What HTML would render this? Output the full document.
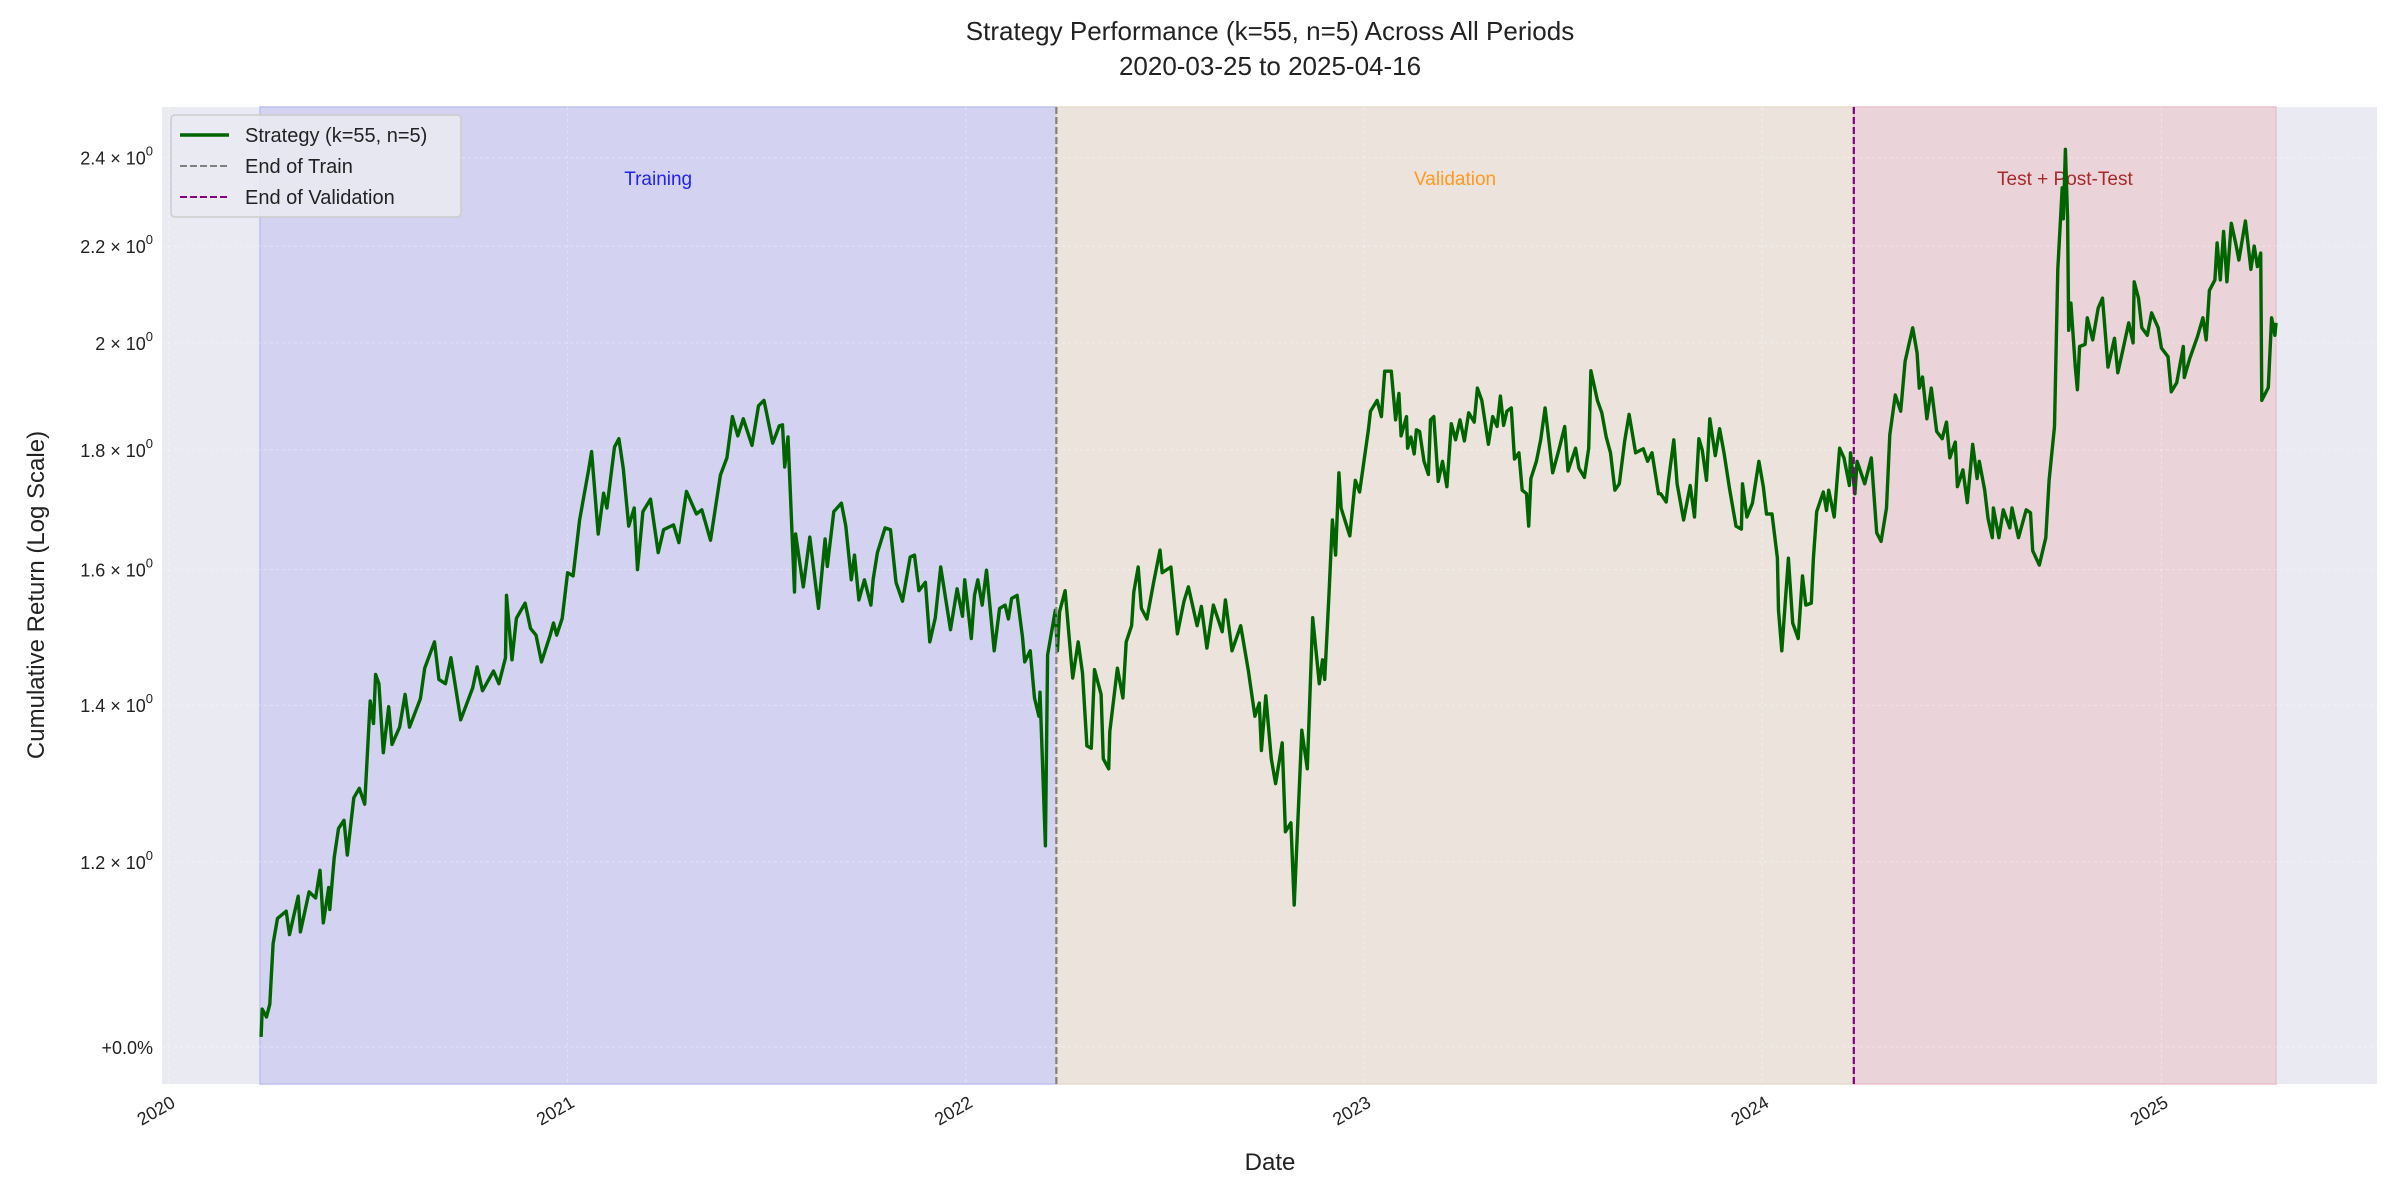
<!DOCTYPE html>
<html><head><meta charset="utf-8"><style>
html,body{margin:0;padding:0;background:#fff;}
svg{display:block;font-family:"Liberation Sans",sans-serif;}
</style></head><body>
<svg id="chart" width="2400" height="1200" viewBox="0 0 2400 1200" xmlns="http://www.w3.org/2000/svg">
<text x="1270" y="40" text-anchor="middle" font-size="26" fill="#222">Strategy Performance (k=55, n=5) Across All Periods</text>
<text x="1270" y="75" text-anchor="middle" font-size="26" fill="#222">2020-03-25 to 2025-04-16</text>
<g id="plot"></g>
<text transform="translate(44,595) rotate(-90)" text-anchor="middle" font-size="24" fill="#222">Cumulative Return (Log Scale)</text>
<text x="1270" y="1170" text-anchor="middle" font-size="24" fill="#222">Date</text>
</svg>
<script>
const days = [85,86,90,93,96,100,108,111,119,121,129,135,139,142,147,148,152,156,161,164,170,175,180,185,188,190,193,197,202,205,212,217,221,231,235,244,248,254,259,268,279,283,288,298,303,309,310,315,319,327,332,337,342,350,353,356,361,366,371,377,385,388,394,399,402,409,413,417,422,427,430,435,442,449,454,463,468,475,484,489,497,506,512,517,522,527,535,541,546,554,560,
563,565,568,574,575,582,588,596,602,604,610,617,621,626,629,633,638,644,646,650,657,662,667,673,680,684,688,694,698,703,708,717,723,728,730,736,739,742,746,750,757,762,767,770,773,778,783,785,790,794,798,799,804,806,813,815,817,822,829,834,838,842,846,849,855,857,862,863,870,875,878,883,885,889,892,897,903,909,911,919,925,931,935,943,947,952,958,966,969,975,983,990,996,1000,1002,1006,1011,1015,1021,1024,1029,1032,1036,1039,1044,1049,1055,1058,1060,1064,1067,1070,1073,
1075,1083,1088,1092,1100,1102,1108,1112,1115,1121,1125,1128,1130,1135,1136,1139,1142,1144,1147,1151,1155,1157,1160,1164,1168,1172,1176,1180,1184,1188,1192,1197,1200,1204,1210,1214,1218,1221,1224,1227,1231,1234,1238,1241,1245,1247,1249,1254,1258,1262,1269,1275,1280,1283,1290,1293,1298,1302,1304,1310,1314,1318,1322,1326,1330,1335,1339,1345,1352,1356,1360,1366,1368,1373,1375,1380,1383,1389,1395,1399,1403,1406,1410,1413,1418,1422,1426,1431,1437,1442,1443,1447,1452,1458,1462,1465,1470,1475,1476,1479,1485,1489,1494,1498,1501,1506,1508,1511,1517,1520,1522,1527,1532,1536,1541,1542,1546,1548,
1555,1561,1566,1570,1575,1578,1583,1588,1592,1599,1603,1605,1608,1612,1616,1621,1626,1630,1633,1638,1640,1645,1649,1654,1658,1660,1665,1668,1672,1673,1678,1682,1688,1690,1696,1703,1707,1709,1715,1721,1724,1729,1732,1736,1737,1739,1741,1742,1744,1748,1750,1752,1757,1759,1764,1769,1773,1778,1784,1787,1792,1797,1801,1802,1806,1809,1814,1818,1824,1827,1833,1836,1841,1847,1848,1853,1860,1865,1868,1871,1876,1878,1881,1884,1887,1891,1895,1898,1904,1909,1912,1915,1918,1919,1925,1928,1931,1932];
const values = [1.01,1.038,1.03,1.043,1.107,1.135,1.143,1.117,1.16,1.12,1.165,1.158,1.19,1.13,1.17,1.145,1.205,1.24,1.25,1.208,1.278,1.29,1.27,1.406,1.375,1.443,1.43,1.336,1.398,1.347,1.37,1.415,1.37,1.409,1.452,1.49,1.436,1.43,1.467,1.38,1.424,1.454,1.42,1.448,1.43,1.467,1.56,1.464,1.525,1.548,1.51,1.5,1.461,1.5,1.518,1.5,1.525,1.595,1.59,1.68,1.763,1.797,1.657,1.725,1.7,1.805,1.82,1.767,1.67,1.7,1.6,1.694,1.715,1.627,1.664,1.672,1.643,1.728,1.69,1.697,1.647,1.756,1.786,1.86,1.825,1.856,1.808,1.88,1.89,1.812,1.843,
1.845,1.77,1.823,1.565,1.657,1.573,1.652,1.54,1.649,1.605,1.694,1.708,1.67,1.584,1.623,1.553,1.584,1.545,1.584,1.627,1.667,1.664,1.58,1.551,1.62,1.623,1.567,1.58,1.49,1.526,1.604,1.508,1.57,1.528,1.584,1.495,1.56,1.584,1.545,1.599,1.477,1.54,1.545,1.524,1.555,1.56,1.497,1.461,1.477,1.41,1.385,1.418,1.219,1.471,1.537,1.477,1.535,1.567,1.438,1.49,1.445,1.345,1.342,1.45,1.415,1.328,1.315,1.364,1.452,1.41,1.49,1.514,1.565,1.604,1.54,1.524,1.578,1.631,1.595,1.604,1.502,1.551,1.573,1.514,1.543,1.481,1.545,1.505,1.553,1.477,1.514,1.448,1.385,1.403,1.339,1.413,1.328,1.296,1.349,1.236,1.247,1.15,1.267,1.366,1.315,1.526,1.43,1.464,1.436,1.565,1.68,1.623,1.76,
1.70,1.654,1.747,1.727,1.836,1.87,1.89,1.86,1.945,1.945,1.854,1.903,1.825,1.86,1.803,1.823,1.793,1.836,1.833,1.78,1.757,1.854,1.86,1.745,1.78,1.736,1.847,1.818,1.854,1.816,1.867,1.85,1.913,1.89,1.81,1.86,1.842,1.898,1.844,1.87,1.876,1.784,1.795,1.73,1.724,1.67,1.75,1.78,1.818,1.876,1.76,1.803,1.842,1.763,1.803,1.768,1.752,1.803,1.946,1.89,1.867,1.823,1.795,1.73,1.741,1.816,1.864,1.795,1.802,1.78,1.795,1.724,1.724,1.71,1.745,1.818,1.741,1.68,1.738,1.685,1.82,1.8,1.747,1.856,1.79,1.838,1.795,1.734,1.67,1.665,1.741,1.685,1.708,1.78,1.736,1.69,1.69,1.618,1.537,1.477,1.618,1.518,1.495,1.59,1.545,1.548,1.618,1.694,1.727,1.696,1.73,1.685,1.803,1.786,1.738,1.795,1.724,1.78,
1.741,1.786,1.659,1.645,1.70,1.827,1.90,1.87,1.964,2.03,1.98,1.913,1.934,1.856,1.913,1.833,1.82,1.85,1.786,1.814,1.736,1.765,1.709,1.81,1.75,1.78,1.73,1.683,1.651,1.70,1.651,1.697,1.667,1.70,1.651,1.697,1.692,1.63,1.607,1.651,1.747,1.842,2.15,2.33,2.26,2.42,2.26,2.025,2.08,1.953,1.91,1.993,1.997,2.05,2.006,2.07,2.09,1.953,2.009,1.942,1.99,2.04,2.0,2.124,2.09,2.03,2.015,2.06,2.03,1.99,1.973,1.906,1.923,1.993,1.933,1.97,2.012,2.05,2.006,2.106,2.128,2.207,2.128,2.232,2.124,2.25,2.207,2.17,2.255,2.15,2.2,2.156,2.185,1.89,1.914,2.05,2.015,2.04,2.03];
const yTickValues = [1.0,1.2,1.4,1.6,1.8,2.0,2.2,2.4];
const yTickMantissa = ["+0.0%","1.2","1.4","1.6","1.8","2","2.2","2.4"];
const xTickYears = [2020,2021,2022,2023,2024,2025];
const xTickDays = [0,366,731,1096,1461,1827];
const periodStarts = [84,814,1545];
const periodEnds = [814,1545,1932];
const periodNames = ["Training","Validation","Test + Post-Test"];

const NS="http://www.w3.org/2000/svg";
const L=162,R=2377,T=107,B=1084;
function xs(d){return 260+(d-84)*1.0909;}
function ys(v){return 1047-1015.8*Math.log(v);}
const plot=document.getElementById('plot');
function mk(tag,attrs,parent){const e=document.createElementNS(NS,tag);for(const k in attrs)e.setAttribute(k,attrs[k]);(parent||plot).appendChild(e);return e;}

let bg=mk('rect',{x:L,y:T,width:R-L,height:B-T,fill:'#eaeaf2'});



const spanFill=['#d3d3f1','#ece3dc','#ebd3da'];
const spanStroke=['#c0c0f0','#e8dccc','#eac0ca'];
const labelColor=['#2222ee','#ff9922','#a52a2a'];
for(let i=0;i<periodStarts.length;i++){
  const r=mk('rect',{x:xs(periodStarts[i]),y:T,width:xs(periodEnds[i])-xs(periodStarts[i]),height:B-T,fill:spanFill[i],stroke:spanStroke[i],'stroke-width':1.5});
  
  
  const t=mk('text',{x:(xs(periodStarts[i])+xs(periodEnds[i]))/2,y:185,'text-anchor':'middle','font-size':19,fill:labelColor[i]});
  t.textContent=periodNames[i];
  
  
}
for(let i=0;i<yTickValues.length;i++){
  const y=ys(yTickValues[i]);
  const g=mk('line',{x1:L,x2:R,y1:y,y2:y,stroke:'#ffffff','stroke-width':1,'stroke-dasharray':'3,3','stroke-opacity':0.35});
  
  
  const lab=mk('text',{x:153,y:y+7,'text-anchor':'end','font-size':18,fill:'#222'});
  if(i===0){lab.textContent=yTickMantissa[i];}
  else{
    const a=document.createElementNS(NS,'tspan');a.textContent=yTickMantissa[i]+' \u00d7 10';lab.appendChild(a);
    const s=document.createElementNS(NS,'tspan');s.setAttribute('dy','-9');s.setAttribute('font-size','13');s.textContent='0';lab.appendChild(s);
  }
  
  
}
for(let i=0;i<xTickYears.length;i++){
  const x=xs(xTickDays[i]);
  const g=mk('line',{x1:x,x2:x,y1:T,y2:B,stroke:'#ffffff','stroke-width':1,'stroke-dasharray':'3,3','stroke-opacity':0.35});
  
  
  const lab=mk('text',{transform:'translate('+(x+8)+','+(B+22)+') rotate(-30)','text-anchor':'end','font-size':18,fill:'#222'});
  lab.textContent=xTickYears[i];
  
  
}
let d='';
for(let i=0;i<days.length;i++){d+=(i?'L':'M')+xs(days[i]).toFixed(1)+','+ys(values[i]).toFixed(1);}
const line=mk('path',{d:d,fill:'none',stroke:'#006400','stroke-width':3.4,'stroke-linejoin':'round'});


const v1=mk('line',{x1:xs(periodEnds[0]),x2:xs(periodEnds[0]),y1:T,y2:B,stroke:'#808080','stroke-width':2.2,'stroke-dasharray':'7,3'});


const v2=mk('line',{x1:xs(periodEnds[1]),x2:xs(periodEnds[1]),y1:T,y2:B,stroke:'#800080','stroke-width':2.2,'stroke-dasharray':'7,3'});


const lg=mk('g',{});


mk('rect',{x:171,y:115,width:290,height:102,rx:4,fill:'#eaeaf2','fill-opacity':0.85,stroke:'#cccccc','stroke-width':1.5},lg);
const legNames=['Strategy (k=55, n=5)','End of Train','End of Validation'];
const legCol=['#006400','#808080','#800080'];
for(let i=0;i<3;i++){
  const y=135+i*31;
  const ln=mk('line',{x1:180,x2:229,y1:y,y2:y,stroke:legCol[i],'stroke-width':i?2:3.6,'stroke-dasharray':i?'7,3':'none'},lg);
  
  
  const t=mk('text',{x:245,y:y+7,'font-size':20,fill:'#222'},lg);
  t.textContent=legNames[i];
  
  
}
</script>
</body></html>
